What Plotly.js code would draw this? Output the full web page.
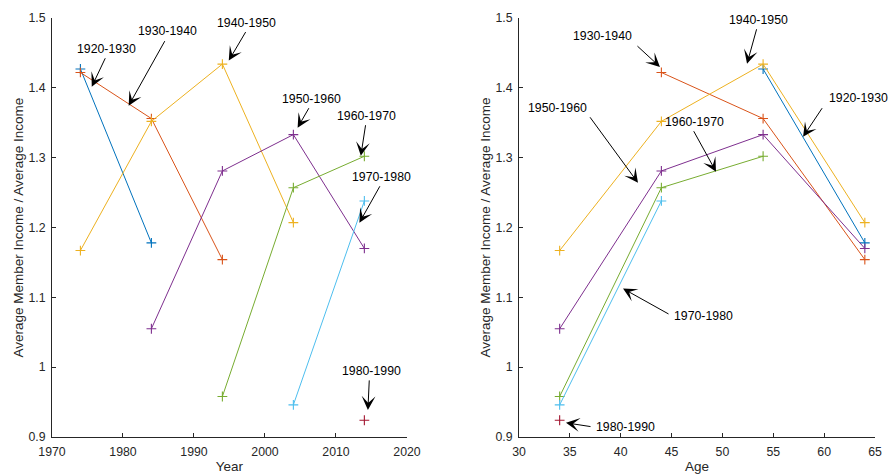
<!DOCTYPE html>
<html>
<head>
<meta charset="utf-8">
<script src="https://cdn.plot.ly/plotly-3.0.1.min.js"></script>
<style>html,body{margin:0;padding:0;background:#fff;}#chart{width:888px;height:474px;}</style>
</head>
<body>
<div id="chart"></div>
<script>
// ---- data ----
const cohorts = ['1920-1930','1930-1940','1940-1950','1950-1960','1960-1970','1970-1980','1980-1990'];
const years1920 = [1974, 1984];
const years1930 = [1974, 1984, 1994];
const years1940 = [1974, 1984, 1994, 2004];
const years1950 = [1984, 1994, 2004, 2014];
const years1960 = [1994, 2004, 2014];
const years1970 = [2004, 2014];
const years1980 = [2014];
const ages1920 = [54, 64];
const ages1930 = [44, 54, 64];
const ages1940 = [34, 44, 54, 64];
const ages1950 = [34, 44, 54, 64];
const ages1960 = [34, 44, 54];
const ages1970 = [34, 44];
const ages1980 = [34];
const ratio1920 = [1.427, 1.178];
const ratio1930 = [1.422, 1.356, 1.154];
const ratio1940 = [1.167, 1.352, 1.434, 1.207];
const ratio1950 = [1.055, 1.281, 1.333, 1.170];
const ratio1960 = [0.958, 1.257, 1.302];
const ratio1970 = [0.946, 1.238];
const ratio1980 = [0.924];
const yearTicks = [1970, 1980, 1990, 2000, 2010, 2020];
const ageTicks = [30, 35, 40, 45, 50, 55, 60, 65];
const ratioTicks = [0.9, 1, 1.1, 1.2, 1.3, 1.4, 1.5];
const ratioTickText = ['0.9', '1', '1.1', '1.2', '1.3', '1.4', '1.5'];
const yTitle = 'Average Member Income / Average Income';

const yearsAll = [years1920, years1930, years1940, years1950, years1960, years1970, years1980];
const agesAll = [ages1920, ages1930, ages1940, ages1950, ages1960, ages1970, ages1980];
const ratiosAll = [ratio1920, ratio1930, ratio1940, ratio1950, ratio1960, ratio1970, ratio1980];
const colors = ['#0072BD', '#D95319', '#EDB120', '#7E2F8E', '#77AC30', '#4DBEEE', '#A2142F'];

// annotation placement (text center, arrow tail, arrow head) in data units
const leftNotes = [
  {label: '1920-1930', tx: 1977.7, ty: 1.456, ax: 1977.6, ay: 1.4445, hx: 1975.6, hy: 1.4016},
  {label: '1930-1940', tx: 1986.2, ty: 1.482, ax: 1986.0, ay: 1.469, hx: 1980.8, hy: 1.3745},
  {label: '1940-1950', tx: 1997.4, ty: 1.493, ax: 1997.4, ay: 1.482, hx: 1994.9, hy: 1.439},
  {label: '1950-1960', tx: 2006.6, ty: 1.3844, ax: 2006.3, ay: 1.373, hx: 2004.6, hy: 1.343},
  {label: '1960-1970', tx: 2014.3, ty: 1.360, ax: 2014.2, ay: 1.3486, hx: 2013.5, hy: 1.3026},
  {label: '1970-1980', tx: 2016.4, ty: 1.2727, ax: 2016.3, ay: 1.2612, hx: 2013.3, hy: 1.2068},
  {label: '1980-1990', tx: 2015.0, ty: 0.9947, ax: 2014.7, ay: 0.9832, hx: 2014.5, hy: 0.9388}
];
const rightNotes = [
  {label: '1930-1940', tx: 38.26, ty: 1.4746, ax: 41.5, ay: 1.4617, hx: 43.86, hy: 1.430},
  {label: '1940-1950', tx: 53.5, ty: 1.4976, ax: 53.4, ay: 1.486, hx: 52.42, hy: 1.4345},
  {label: '1920-1930', tx: 63.33, ty: 1.3858, ax: 59.9, ay: 1.373, hx: 57.93, hy: 1.330},
  {label: '1950-1960', tx: 33.74, ty: 1.3715, ax: 36.88, ay: 1.360, hx: 41.7, hy: 1.264},
  {label: '1960-1970', tx: 47.3, ty: 1.3515, ax: 47.1, ay: 1.340, hx: 49.37, hy: 1.280},
  {label: '1970-1980', tx: 48.1, ty: 1.0738, ax: 44.85, ay: 1.075, hx: 40.23, hy: 1.1125},
  {label: '1980-1990', tx: 40.52, ty: 0.9146, ax: 37.18, ay: 0.9146, hx: 34.62, hy: 0.9203}
];

// ---- traces ----
const FONT = 'Liberation Sans, Arial, Helvetica, sans-serif';
const traces = [];
function mk(i, xs, xa, ya) {
  return {
    type: 'scatter', mode: 'lines+markers', name: cohorts[i], showlegend: false,
    x: xs, y: ratiosAll[i], xaxis: xa, yaxis: ya,
    line: {color: colors[i], width: 1},
    marker: {symbol: 'cross-thin', size: 7, color: colors[i], line: {color: colors[i], width: 1.1}},
    cliponaxis: false
  };
}
cohorts.forEach((c, i) => traces.push(mk(i, yearsAll[i], 'x', 'y')));
cohorts.forEach((c, i) => traces.push(mk(i, agesAll[i], 'x2', 'y2')));

// ---- annotations ----
const annotations = [];
function addNotes(notes, xr, yr) {
  notes.forEach(n => {
    annotations.push({
      xref: xr, yref: yr, axref: xr, ayref: yr,
      x: n.hx, y: n.hy, ax: n.ax, ay: n.ay,
      text: '', showarrow: true, arrowhead: 3, arrowsize: 2.3, arrowwidth: 1,
      arrowcolor: '#000000', standoff: 0, startstandoff: 0
    });
    annotations.push({
      xref: xr, yref: yr, x: n.tx, y: n.ty, text: n.label, showarrow: false,
      xanchor: 'center', yanchor: 'middle',
      font: {family: FONT, size: 12.3, color: '#000000'}
    });
  });
}
addNotes(leftNotes, 'x', 'y');
addNotes(rightNotes, 'x2', 'y2');
// y-axis titles
[-0.0413, 0.5273].forEach(px => {
  annotations.push({
    xref: 'paper', yref: 'paper', x: px, y: 0.5, text: yTitle, textangle: -90,
    showarrow: false, xanchor: 'center', yanchor: 'middle',
    font: {family: FONT, size: 13.5, color: '#262626'}
  });
});

const axCommon = {
  showgrid: false, zeroline: false, showline: true, linecolor: '#262626', linewidth: 1,
  ticks: 'inside', ticklen: 4, tickwidth: 1, tickcolor: '#262626',
  tickfont: {family: FONT, size: 12.3, color: '#262626'}, mirror: false, fixedrange: true
};

const layout = {
  width: 888, height: 474,
  margin: {l: 52, r: 13, t: 18, b: 37, pad: 0},
  paper_bgcolor: '#ffffff', plot_bgcolor: '#ffffff',
  showlegend: false,
  font: {family: FONT, color: '#262626'},
  xaxis: Object.assign({}, axCommon, {
    domain: [0, 0.4313], range: [1970, 2020], tickvals: yearTicks, anchor: 'y',
    ticklabelstandoff: 3,
    title: {text: 'Year', font: {family: FONT, size: 13.5, color: '#262626'}, standoff: 7}
  }),
  yaxis: Object.assign({}, axCommon, {
    domain: [0, 1], range: [0.9, 1.5], tickvals: ratioTicks, ticktext: ratioTickText, anchor: 'x',
    ticklabelstandoff: 3
  }),
  xaxis2: Object.assign({}, axCommon, {
    domain: [0.5674, 1], range: [30, 65], tickvals: ageTicks, anchor: 'y2',
    ticklabelstandoff: 3,
    title: {text: 'Age', font: {family: FONT, size: 13.5, color: '#262626'}, standoff: 7}
  }),
  yaxis2: Object.assign({}, axCommon, {
    domain: [0, 1], range: [0.9, 1.5], tickvals: ratioTicks, ticktext: ratioTickText, anchor: 'x2',
    ticklabelstandoff: 3
  }),
  annotations: annotations
};

Plotly.newPlot('chart', traces, layout, {staticPlot: true, displayModeBar: false});
</script>
</body>
</html>
